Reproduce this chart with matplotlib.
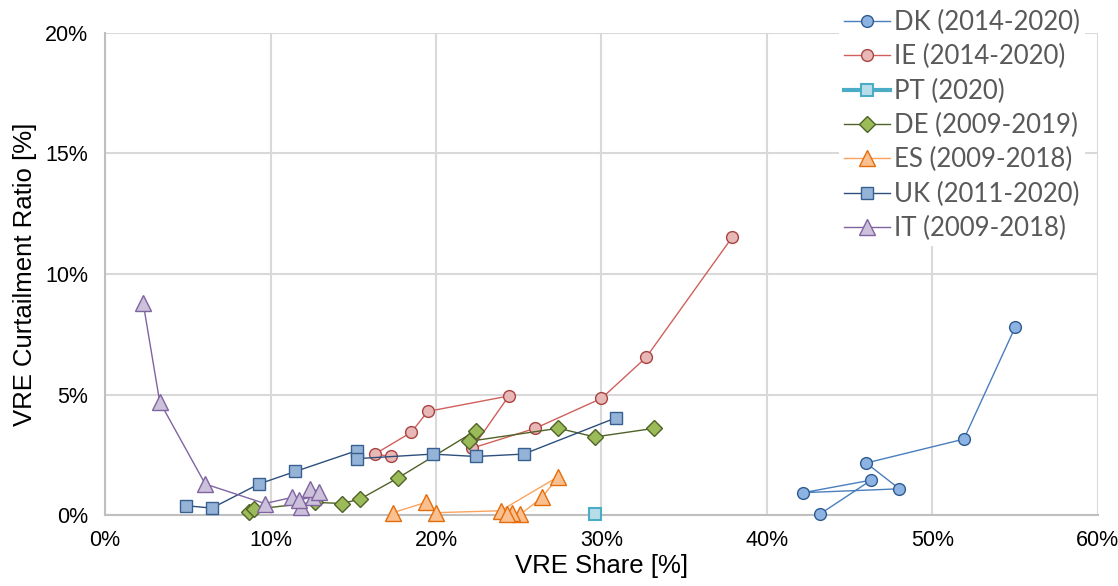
import matplotlib.pyplot as plt
from matplotlib.ticker import PercentFormatter

# VRE share [%] and curtailment ratio [%] per country, in plotting order
dk_share = [43.2, 46.3, 42.2, 48.0, 46.0, 51.9, 55.0]
dk_curt = [0.04, 1.45, 0.93, 1.09, 2.16, 3.15, 7.79]

ie_share = [17.3, 16.3, 18.5, 19.5, 24.4, 22.2, 26.0, 30.0, 32.7, 37.9]
ie_curt = [2.43, 2.53, 3.43, 4.30, 4.94, 2.78, 3.60, 4.84, 6.54, 11.52]

pt_share = [29.6]
pt_curt = [0.04]

de_share = [8.7, 9.0, 12.7, 14.3, 15.4, 17.7, 22.4, 22.0, 27.4, 29.6, 33.2]
de_curt = [0.11, 0.24, 0.53, 0.48, 0.66, 1.54, 3.50, 3.06, 3.60, 3.24, 3.60]

es_share = [17.4, 19.4, 20.0, 23.9, 27.4, 26.4, 25.1, 24.6, 24.3]
es_curt = [0.10, 0.53, 0.10, 0.18, 1.60, 0.73, 0.03, 0.10, 0.04]

uk_share = [4.9, 6.45, 9.3, 11.5, 15.2, 15.2, 19.8, 22.4, 25.3, 30.9]
uk_curt = [0.39, 0.29, 1.29, 1.81, 2.67, 2.34, 2.53, 2.43, 2.53, 4.04]

it_share = [2.3, 3.3, 6.05, 9.65, 11.3, 11.85, 11.7, 12.55, 12.4, 12.95]
it_curt = [8.8, 4.7, 1.29, 0.48, 0.73, 0.34, 0.62, 0.76, 1.10, 0.97]

labels = ['DK (2014-2020)', 'IE (2014-2020)', 'PT (2020)', 'DE (2009-2019)',
          'ES (2009-2018)', 'UK (2011-2020)', 'IT (2009-2018)']

fig = plt.figure(figsize=(11.18, 5.86), dpi=100)
ax = fig.add_axes([0.094, 0.121, 0.888, 0.823])

style = dict(lw=1.0, mew=1.0, clip_on=False, zorder=3)
ax.plot(dk_share, dk_curt, color='#4a7ebf', marker='o', ms=8.5,
        mfc='#8db3e2', mec='#2f5a8f', label=labels[0], **style)
ax.plot(ie_share, ie_curt, color='#d0605c', marker='o', ms=8.5,
        mfc='#e8b8b7', mec='#a84341', label=labels[1], **style)
ax.plot(pt_share, pt_curt, color='#4bacc6', lw=3.0, marker='s', ms=8,
        mfc='#b7dee8', mec='#4bacc6', mew=1.5, clip_on=False, zorder=3,
        label=labels[2])
ax.plot(de_share, de_curt, color='#4f6228', marker='D', ms=8.5,
        mfc='#9bbb59', mec='#4f6228', label=labels[3], **style)
ax.plot(es_share, es_curt, color='#f9a35e', marker='^', ms=11,
        mfc='#fac090', mec='#e46c0a', label=labels[4], **style)
ax.plot(uk_share, uk_curt, color='#2c4f7c', marker='s', ms=8.5,
        mfc='#95b3d7', mec='#366092', label=labels[5], **style)
ax.plot(it_share, it_curt, color='#8064a2', marker='^', ms=11,
        mfc='#ccc1da', mec='#8064a2', label=labels[6], **style)

ax.set_xlim(0, 60)
ax.set_ylim(0, 20)
ax.set_xticks(range(0, 61, 10))
ax.set_yticks(range(0, 21, 5))
ax.xaxis.set_major_formatter(PercentFormatter(decimals=0))
ax.yaxis.set_major_formatter(PercentFormatter(decimals=0))
ax.tick_params(length=0, labelsize=15.5, colors='#000000')
ax.tick_params(axis='x', pad=11)
ax.tick_params(axis='y', pad=12)
for t in ax.get_xticklabels() + ax.get_yticklabels():
    t.set_fontfamily('Liberation Sans')

ax.grid(True, color='#d9d9d9', lw=1.5)
ax.set_axisbelow(True)
for side in ['top', 'right']:
    ax.spines[side].set_visible(False)
for side in ['left', 'bottom']:
    ax.spines[side].set_color('#bfbfbf')
    ax.spines[side].set_linewidth(1.5)

ax.set_xlabel('VRE Share [%]', fontsize=18.5, family='Liberation Sans', labelpad=2)
ax.set_ylabel('VRE Curtailment Ratio [%]', fontsize=18.5, family='Liberation Sans',
              labelpad=6)

leg = ax.legend(loc='upper right', bbox_to_anchor=(1.0, 1.085), frameon=True,
                fancybox=False, facecolor='white', framealpha=1.0,
                handlelength=1.8, handletextpad=0.15, labelspacing=0.36,
                borderpad=0.2, prop={'family': 'Lato', 'size': 18.5})
leg.get_frame().set_linewidth(0)
for t in leg.get_texts():
    t.set_color('#595959')

fig.savefig('out.png', dpi=100)
